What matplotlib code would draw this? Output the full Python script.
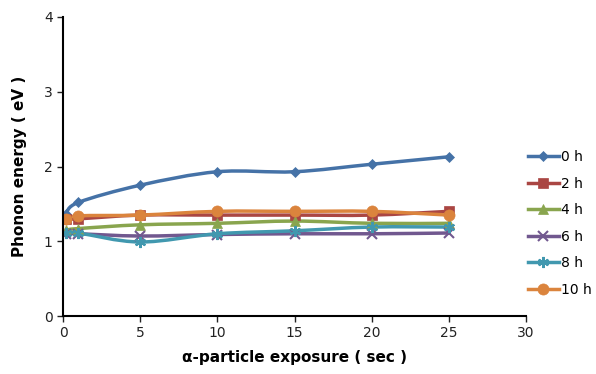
import matplotlib
matplotlib.use("Agg")
import matplotlib.pyplot as plt
import numpy as np
from matplotlib.path import Path
from matplotlib.patches import PathPatch
from matplotlib.lines import Line2D

exposure = [0.2, 1, 5, 10, 15, 20, 25]
series_names = ["0 h", "2 h", "4 h", "6 h", "8 h", "10 h"]
e_0h = [1.37, 1.52, 1.75, 1.93, 1.93, 2.03, 2.13]
e_2h = [1.30, 1.30, 1.35, 1.35, 1.35, 1.35, 1.40]
e_4h = [1.15, 1.17, 1.22, 1.24, 1.27, 1.24, 1.24]
e_6h = [1.10, 1.10, 1.07, 1.09, 1.10, 1.10, 1.11]
e_8h = [1.11, 1.11, 0.99, 1.10, 1.14, 1.19, 1.19]
e_10h = [1.30, 1.34, 1.35, 1.40, 1.40, 1.40, 1.35]

colors = ["#4572A7", "#AA4643", "#89A54E", "#71588F", "#4198AF", "#DB843D"]
markers = ["D", "s", "^", "x", (6, 2, 0), "o"]
msizes = [5.5, 6.5, 6.5, 7, 8, 8]


def smooth_path(x, y, t=1/6):
    # Excel-like smoothed line built from cubic Bezier segments
    x = np.asarray(x, float)
    y = np.asarray(y, float)
    n = len(x)
    verts = [(x[0], y[0])]
    codes = [Path.MOVETO]
    for i in range(n - 1):
        x0, y0 = (x[i - 1], y[i - 1]) if i > 0 else (x[i], y[i])
        x3, y3 = (x[i + 2], y[i + 2]) if i + 2 < n else (x[i + 1], y[i + 1])
        c1 = (x[i] + (x[i + 1] - x0) * t, y[i] + (y[i + 1] - y0) * t)
        c2 = (x[i + 1] - (x3 - x[i]) * t, y[i + 1] - (y3 - y[i]) * t)
        verts += [c1, c2, (x[i + 1], y[i + 1])]
        codes += [Path.CURVE4] * 3
    return Path(verts, codes)


fig = plt.figure(figsize=(5.96, 3.74), dpi=100)
ax = fig.add_axes([63 / 596, 1 - 316 / 374, (526 - 63) / 596, (316 - 17) / 374])

all_series = [e_0h, e_2h, e_4h, e_6h, e_8h, e_10h]
handles = []
for vals, name, c, m, ms in zip(all_series, series_names, colors, markers, msizes):
    mew = 1.5 if m in ("x", (6, 2, 0)) else 0.5
    ax.add_patch(PathPatch(smooth_path(exposure, vals), facecolor="none",
                           edgecolor=c, lw=2.5, capstyle="round", joinstyle="round"))
    ax.plot(exposure, vals, linestyle="none", marker=m, color=c, ms=ms, mew=mew)
    handles.append(Line2D([], [], color=c, lw=2.5, marker=m, ms=ms, mew=mew))

ax.set_xlim(0, 30)
ax.set_ylim(0, 4)
ax.set_xticks(range(0, 31, 5))
ax.set_yticks(range(0, 5))
ax.spines["top"].set_visible(False)
ax.spines["right"].set_visible(False)
ax.spines["left"].set_linewidth(1.5)
ax.spines["bottom"].set_linewidth(1.5)
ax.tick_params(direction="out", length=4, width=1, labelsize=10, colors="#222222")
ax.set_xlabel("α-particle exposure ( sec )", fontsize=11, fontweight="bold", labelpad=7)
ax.set_ylabel("Phonon energy ( eV )", fontsize=11, fontweight="bold", labelpad=12)

fig.legend(handles, series_names, loc="upper left", bbox_to_anchor=(528 / 596, 1 - 150 / 374),
           frameon=False, fontsize=10, handlelength=2.2, handletextpad=0.2,
           labelspacing=0.9, borderpad=0, borderaxespad=0)

fig.savefig("out.png", dpi=100)
